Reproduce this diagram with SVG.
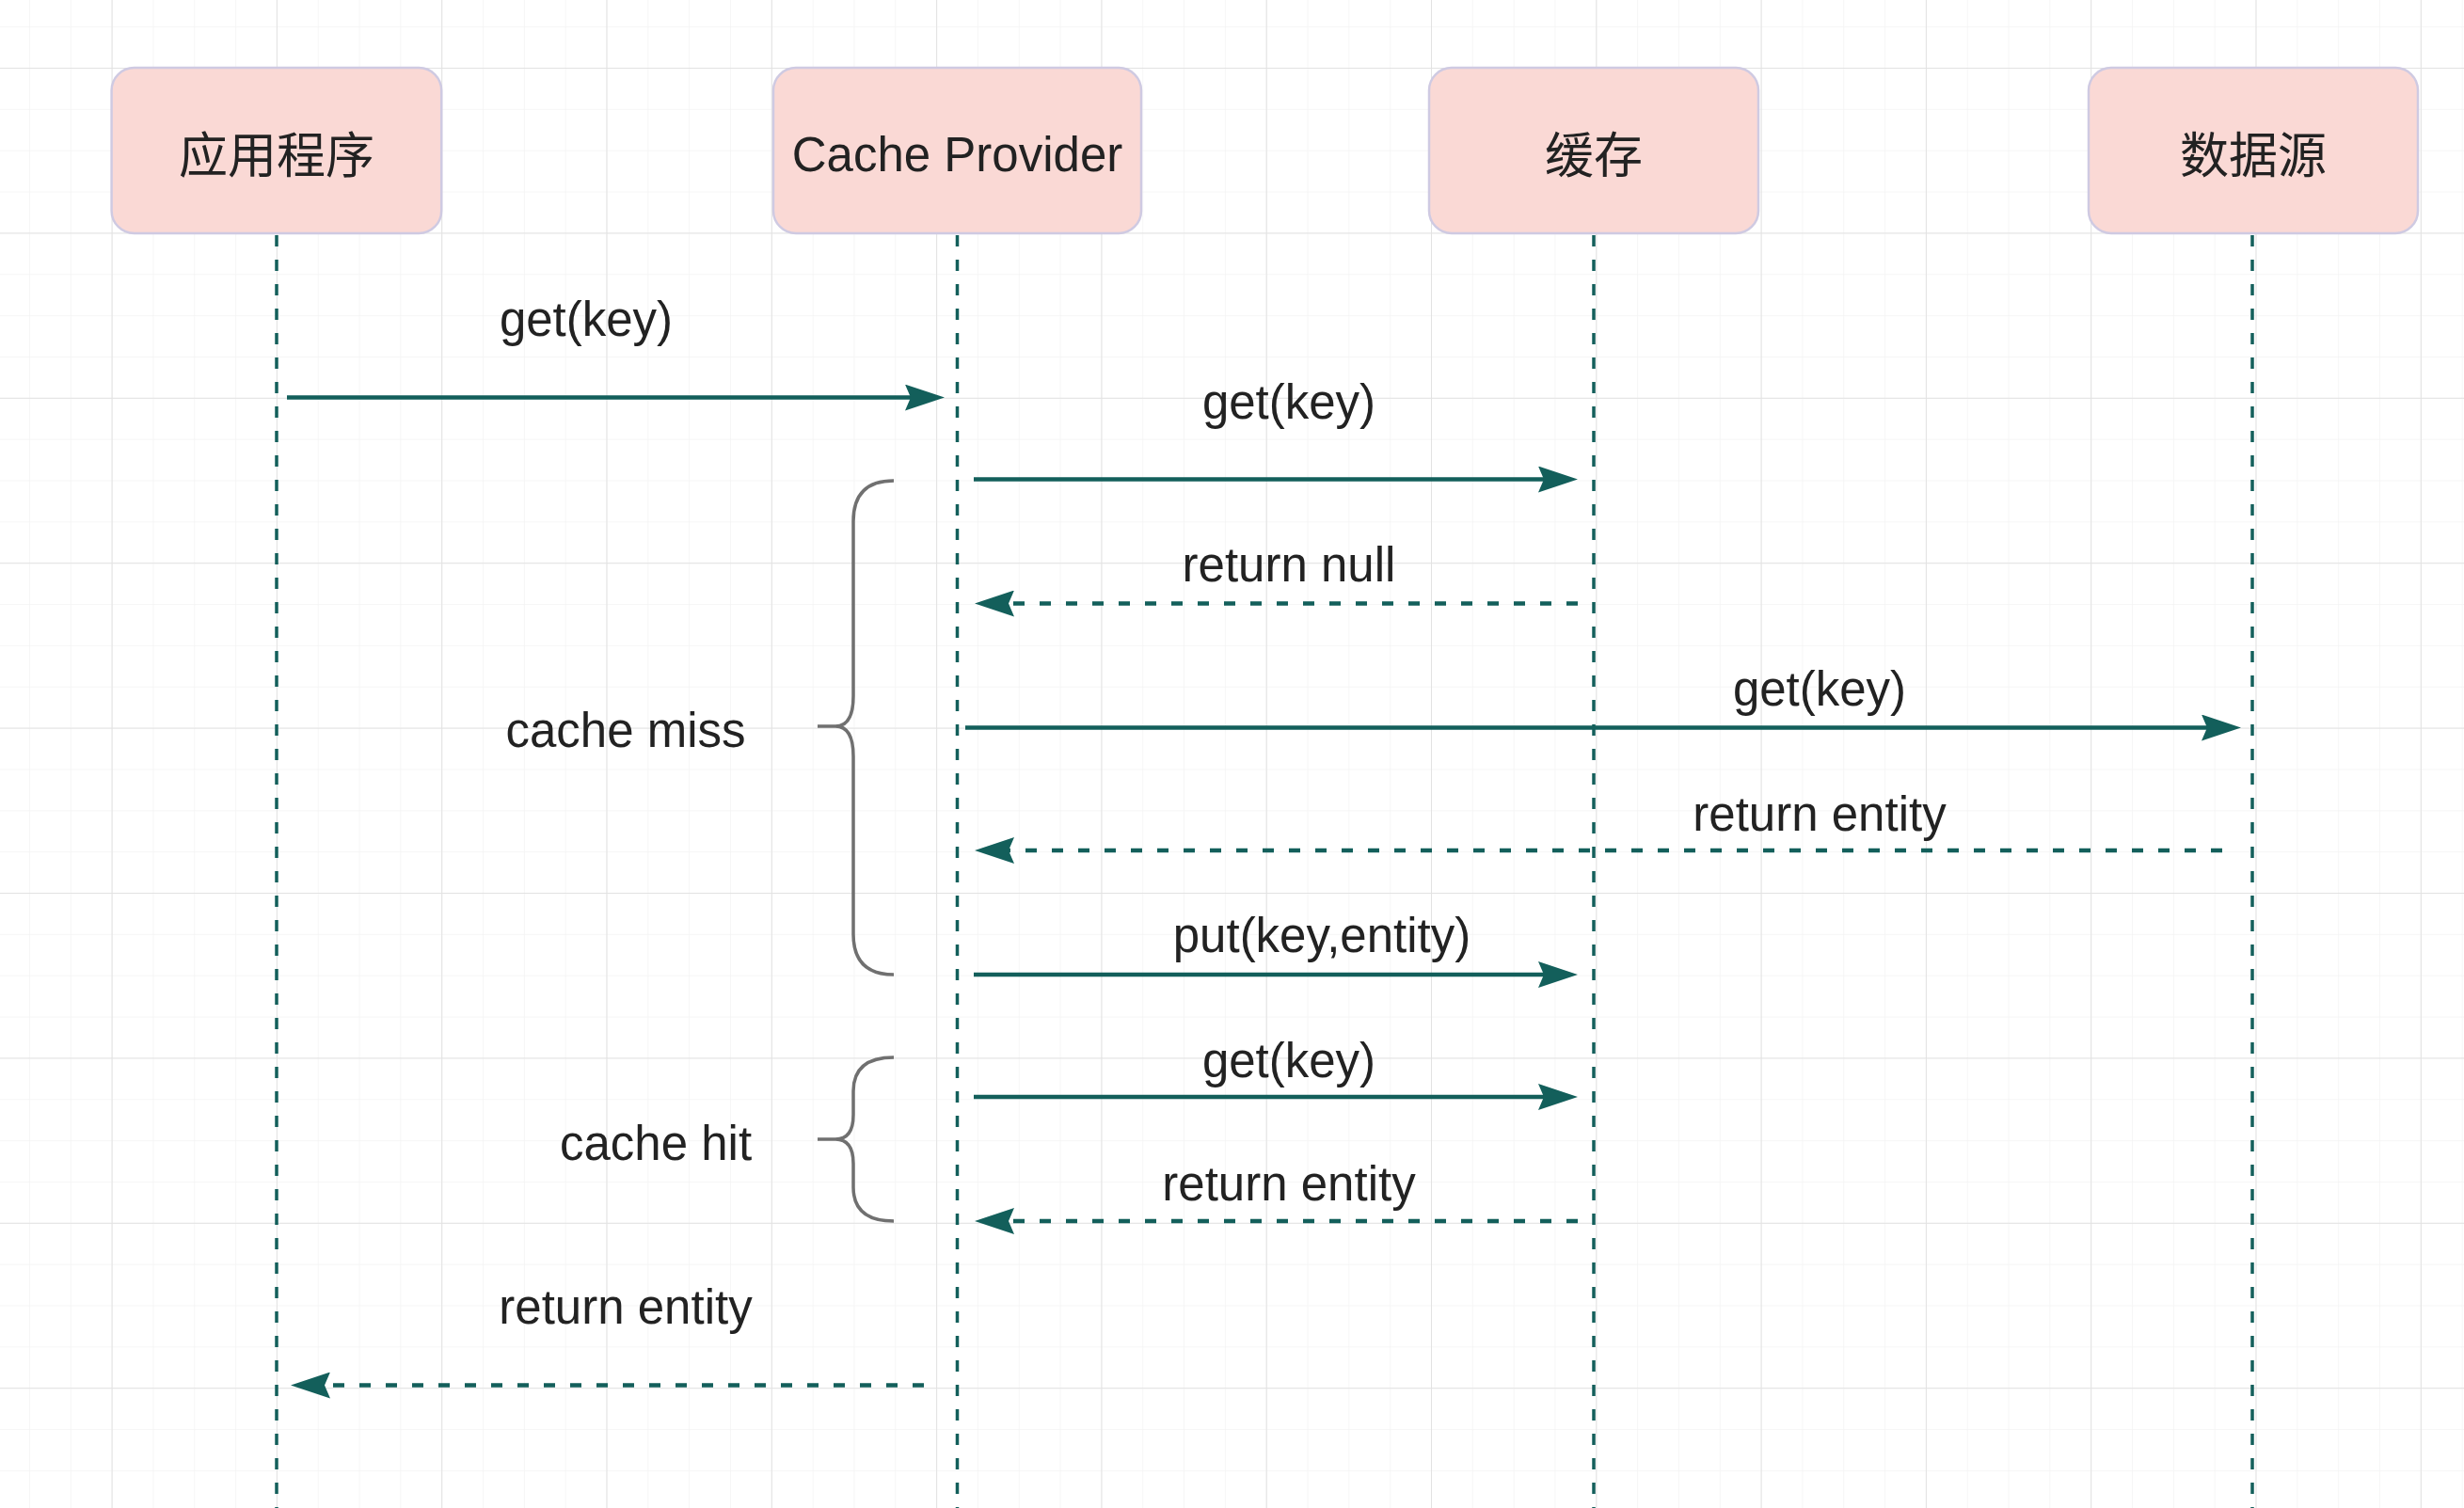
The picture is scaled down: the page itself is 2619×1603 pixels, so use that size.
<svg xmlns="http://www.w3.org/2000/svg" width="2619" height="1603" viewBox="0 0 2619 1603">
  <defs>
    <pattern id="minor" patternUnits="userSpaceOnUse" x="118.6" y="72" width="43.825" height="43.85">
      <path d="M0,0 H43.825 M0,0 V43.85" fill="none" stroke="#f4f4f4" stroke-width="1.5"/>
    </pattern>
    <pattern id="major" patternUnits="userSpaceOnUse" x="118.6" y="72" width="175.3" height="175.4">
      <path d="M0,0 H175.3 M0,0 V175.4" fill="none" stroke="#e2e2e2" stroke-width="2"/>
    </pattern>
    <marker id="ah" viewBox="0 0 42 28" refX="6" refY="14" markerWidth="42" markerHeight="28" markerUnits="userSpaceOnUse" orient="auto">
      <path d="M0,0 L42,14 L0,28 L6,14 Z" fill="#135f5b"/>
    </marker>
    <style>
      .box { fill: #fad9d5; stroke: #cfcae2; stroke-width: 2.5; }
      .t { font-family: "Liberation Sans", Arial, "Noto Sans CJK SC", sans-serif; font-size: 51px; fill: #222222; text-anchor: middle; }
      .cjk { font-family: "Noto Sans CJK SC", "Liberation Sans", sans-serif; font-size: 52px; fill: #222222; text-anchor: middle; }
      .life { stroke: #135f5b; stroke-width: 3.5; stroke-dasharray: 12 14; fill: none; }
      .msg { stroke: #135f5b; stroke-width: 4.5; fill: none; marker-end: url(#ah); }
      .ret { stroke: #135f5b; stroke-width: 4.5; fill: none; stroke-dasharray: 12 16; marker-end: url(#ah); }
      .brace { stroke: #707070; stroke-width: 3.5; fill: none; }
    </style>
  </defs>

  <rect width="2619" height="1603" fill="#ffffff"/>
  <rect width="2619" height="1603" fill="url(#minor)"/>
  <rect width="2619" height="1603" fill="url(#major)"/>

  <g id="lifelines">
    <line class="life" x1="294" y1="250" x2="294" y2="1603"/>
    <line class="life" x1="1017.5" y1="250" x2="1017.5" y2="1603"/>
    <line class="life" x1="1694" y1="250" x2="1694" y2="1603"/>
    <line class="life" x1="2394" y1="250" x2="2394" y2="1603"/>
  </g>

  <g id="node-app">
    <rect class="box" x="118.6" y="72" width="350.6" height="176" rx="24"/>
    <text class="cjk" x="294" y="184">应用程序</text>
  </g>
  <g id="node-provider">
    <rect class="box" x="822" y="72" width="391" height="176" rx="24"/>
    <text class="t" x="1017.5" y="182" font-size="52">Cache Provider</text>
  </g>
  <g id="node-cache">
    <rect class="box" x="1519" y="72" width="350" height="176" rx="24"/>
    <text class="cjk" x="1694" y="184">缓存</text>
  </g>
  <g id="node-datasource">
    <rect class="box" x="2220" y="72" width="350" height="176" rx="24"/>
    <text class="cjk" x="2395" y="184">数据源</text>
  </g>

  <g id="connectors">
    <line class="msg" x1="305" y1="422.6" x2="968" y2="422.6"/>
    <line class="msg" x1="1035" y1="509.5" x2="1641" y2="509.5"/>
    <line class="ret" x1="1677" y1="641.5" x2="1072" y2="641.5"/>
    <line class="msg" x1="1026" y1="773.5" x2="2346" y2="773.5"/>
    <line class="ret" x1="2362" y1="904" x2="1072" y2="904"/>
    <line class="msg" x1="1035" y1="1036" x2="1641" y2="1036"/>
    <line class="msg" x1="1035" y1="1166" x2="1641" y2="1166"/>
    <line class="ret" x1="1677" y1="1298" x2="1072" y2="1298"/>
    <line class="ret" x1="982" y1="1472.5" x2="345" y2="1472.5"/>
  </g>

  <g id="labels">
    <text class="t" x="623" y="357">get(key)</text>
    <text class="t" x="1370" y="445">get(key)</text>
    <text class="t" x="1370" y="618">return null</text>
    <text class="t" x="1934" y="750">get(key)</text>
    <text class="t" x="1934" y="883">return entity</text>
    <text class="t" x="1405" y="1012">put(key,entity)</text>
    <text class="t" x="1370" y="1145">get(key)</text>
    <text class="t" x="1370" y="1276">return entity</text>
    <text class="t" x="665" y="1407">return entity</text>
  </g>

  <g id="brace-miss">
    <path class="brace" d="M950,511 Q907,511 907,554 L907,740 Q907,772 888,772 L869,772 M888,772 Q907,772 907,804 L907,993 Q907,1036 950,1036"/>
    <text class="t" x="665" y="794">cache miss</text>
  </g>
  <g id="brace-hit">
    <path class="brace" d="M950,1124 Q907,1124 907,1160 L907,1185 Q907,1211 888,1211 L869,1211 M888,1211 Q907,1211 907,1237 L907,1262 Q907,1298 950,1298"/>
    <text class="t" x="697" y="1233">cache hit</text>
  </g>
</svg>
